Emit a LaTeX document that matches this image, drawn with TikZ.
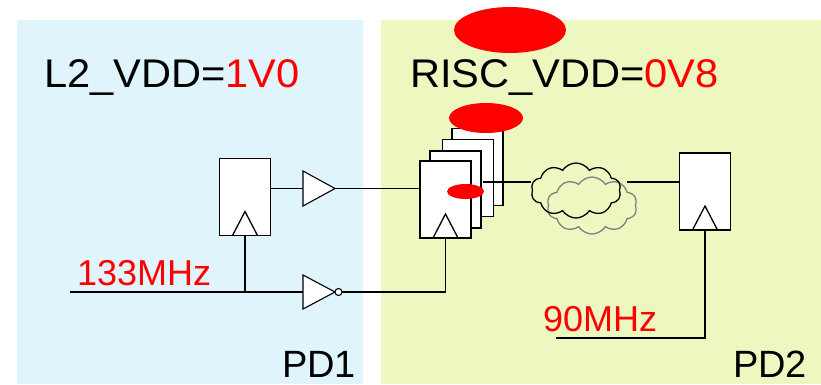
\documentclass[tikz,border=0pt]{standalone}
\usepackage{fontspec}
\setmainfont{Liberation Sans}
\usetikzlibrary{shapes.geometric,shapes.symbols}
\definecolor{pdblue}{RGB}{224,244,252}
\definecolor{pdgreen}{RGB}{236,248,192}
\definecolor{cloudgray}{RGB}{128,128,128}
\tikzset{
  flop/.style={draw=black, line width=1.4pt, fill=white, minimum width=51pt, minimum height=77pt, inner sep=0pt, outer sep=0pt},
  wire/.style={draw=black, line width=1.1pt},
  tri/.style={draw=black, line width=1.1pt, fill=white, line join=miter},
  bubble/.style={draw=black, line width=1.1pt, fill=white, circle, minimum size=7pt, inner sep=0pt, outer sep=0pt},
  redblob/.style={fill=red, draw=none},
  bigtext/.style={font=\fontsize{40}{40}\selectfont, inner sep=0pt, anchor=base west},
  pdtext/.style={font=\fontsize{38}{38}\selectfont, inner sep=0pt, anchor=base west},
  freqtext/.style={font=\fontsize{36}{36}\selectfont, text=red, inner sep=0pt, anchor=base west},
  cloudshape/.style={cloud, cloud puffs=10, cloud puff arc=115, inner sep=0pt, line width=1.3pt}
}
\newcommand{\clk}[1]{\draw[line width=1.3pt] ([xshift=-12.5pt]#1.south) -- ([yshift=24pt]#1.south) -- ([xshift=12.5pt]#1.south);}
\begin{document}
\begin{tikzpicture}[x=1pt,y=-1pt]
\useasboundingbox (0,0) rectangle (821,384);
\fill[white] (0,0) rectangle (821,384);
% power domains
\fill[pdblue] (17,20) rectangle (363,384);
\fill[pdgreen] (381,20) rectangle (821,384);
% labels
\node[bigtext] (vdd1) at (44,87) {\scalebox{1.04}[1]{L2\_VDD=\textcolor{red}{1V0}}};
\node[bigtext] (vdd2) at (410,87) {\scalebox{1.04}[1]{RISC\_VDD=\textcolor{red}{0V8}}};
\node[pdtext] (pd1) at (282,377) {PD1};
\node[pdtext] (pd2) at (733,377) {PD2};
\node[freqtext] (f133) at (77,285) {133MHz};
\node[freqtext] (f90) at (543,331) {90MHz};
% PD1 flop
\node[flop] (ff1) at (245,197) {};
\clk{ff1}
% buffer and inverter
\coordinate (bufin) at (303,188.5);
\coordinate (bufout) at (335,188.5);
\draw[tri] (303,171) -- (bufout) -- (303,206) -- cycle;
\coordinate (invin) at (303,292);
\coordinate (invout) at (335,292);
\draw[tri] (303,275) -- (invout) -- (303,309) -- cycle;
\node[bubble] (bub) at ([xshift=3.5pt]invout) {};
% PD2 flop stack
\node[flop] (ff4) at (477.5,167) {};
\node[flop] (ff3) at (468,178) {};
\node[flop] (ff2) at (455.5,189.5) {};
\node[flop] (ff0) at (445.5,199.5) {};
\clk{ff0}
% clouds
\node[cloudshape, draw=cloudgray, minimum width=90pt, minimum height=57pt] (cl2) at (592,205.5) {};
\node[cloudshape, draw=black, minimum width=90pt, minimum height=55pt] (cl1) at (576,190.5) {};
% PD2 destination flop
\node[flop] (ffd) at (705,191.5) {};
\clk{ffd}
% coordinates
\coordinate (in133) at (70,292);
\coordinate (jn) at (ff1.south |- in133);
\coordinate (in90) at (556,338);
\coordinate (qout) at (483,182);
\coordinate (clin) at (531,182);
\coordinate (clout) at (627,182);
% wires
\draw[wire] (in133) -- (invin);
\draw[wire] (jn) -- (ff1.south);
\draw[wire] (ff1.east |- bufin) -- (bufin);
\draw[wire] (bufout) -- (ff0.west |- bufout);
\draw[wire] (bub.east) -- (ff0.south |- bub.east) -- (ff0.south);
\draw[wire] (qout) -- (clin);
\draw[wire] (clout) -- (ffd.west |- clout);
\draw[wire] (in90) -- (ffd.south |- in90) -- (ffd.south);
% red marks
\fill[redblob] (510,30) ellipse [x radius=56, y radius=23];
\fill[redblob] (486,118) ellipse [x radius=37, y radius=15];
\fill[redblob] (465.5,191.5) ellipse [x radius=18.5, y radius=7.5];
\end{tikzpicture}
\end{document}
